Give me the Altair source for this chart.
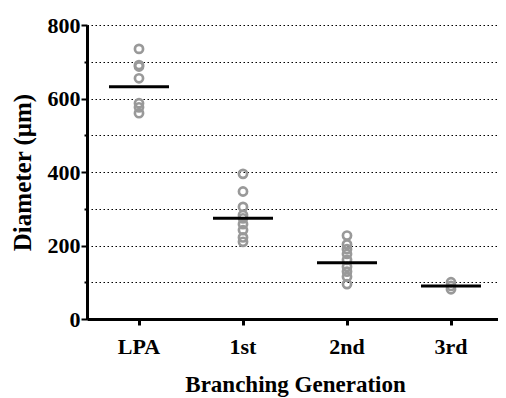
import altair as alt
import pandas as pd

categories = ["LPA", "1st", "2nd", "3rd"]
lpa = [735, 691, 687, 655, 587, 576, 560]
first = [395, 347, 305, 283, 274, 258, 242, 222, 210]
second = [227, 203, 190, 177, 161, 142, 129, 115, 95]
third = [100, 90, 81]
means = [632, 274, 153, 90]
y_ticks = [0, 100, 200, 300, 400, 500, 600, 700, 800]

rows = []
for cat, vals in zip(categories, [lpa, first, second, third]):
    for v in vals:
        rows.append({"gen": cat, "d": v})
pts = pd.DataFrame(rows)
mdf = pd.DataFrame({"gen": categories, "d": means})

FONT = "Liberation Serif"
xscale = alt.Scale(type="band", paddingInner=0, paddingOuter=0, range=[0, 416])
yscale = alt.Scale(domain=[0, 800], nice=False)

xaxis = alt.Axis(
    title="Branching Generation",
    labelAngle=0,
    labelFont=FONT, labelFontSize=22, labelFontWeight="bold", labelColor="black",
    labelPadding=11,
    titleFont=FONT, titleFontSize=23, titleFontWeight="bold", titleColor="black",
    titlePadding=16,
    domainColor="black", domainWidth=3,
    tickColor="black", tickWidth=3, tickSize=6,
    grid=False,
)

yaxis = alt.Axis(
    title="Diameter (μm)",
    values=y_ticks,
    labelExpr="datum.value % 200 == 0 ? datum.label : ''",
    labelFont=FONT, labelFontSize=22, labelFontWeight="bold", labelColor="black",
    labelPadding=1,
    titleFont=FONT, titleFontSize=25, titleFontWeight="bold", titleColor="black",
    titlePadding=12,
    domainColor="black", domainWidth=3,
    tickColor="black", tickWidth=2,
    tickSize={"condition": {"test": "datum.value % 200 == 0", "value": 6}, "value": 3},
    grid=True, gridColor="black", gridDash=[1.5, 2.5], gridWidth=1.2, gridOpacity=1,
)

xenc = alt.X("gen:N", sort=categories, scale=xscale, axis=xaxis)
yenc = alt.Y("d:Q", scale=yscale, axis=yaxis)

points = alt.Chart(pts).mark_point(
    filled=False, stroke="#999999", strokeWidth=2.7, size=66, shape="circle", opacity=1
).encode(x=xenc, y=yenc)

ticks = alt.Chart(mdf).mark_tick(color="black", size=60, thickness=3, opacity=1).encode(
    x=xenc, y=yenc
)

chart = alt.layer(points, ticks).properties(
    width=411,
    height=294,
    autosize=alt.AutoSizeParams(type="none"),
    padding={"left": 79, "top": 17, "right": 0, "bottom": 78},
).configure(background="white").configure_view(stroke=None)

chart.save("out.html", embed_options={"renderer": "svg", "actions": False})
